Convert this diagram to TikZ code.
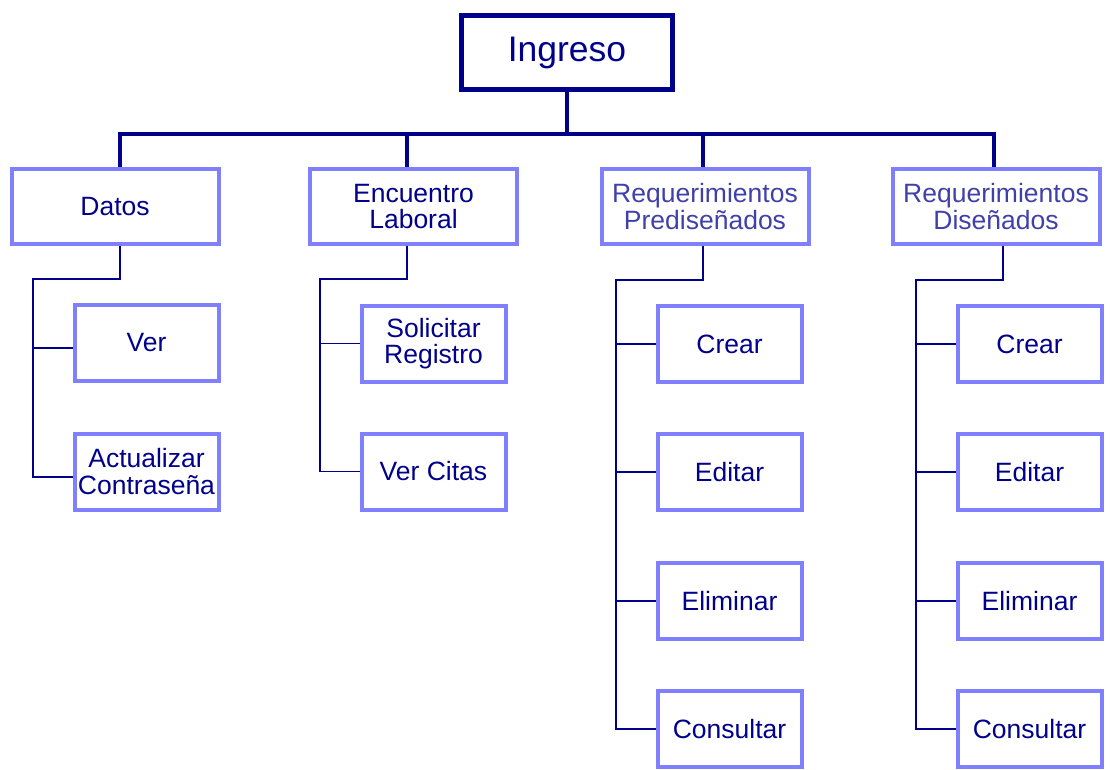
\documentclass[tikz,border=0pt]{standalone}
\usepackage{fontspec}
\setmainfont{Liberation Sans}
\definecolor{navy}{RGB}{0,0,139}
\definecolor{lb}{RGB}{128,128,255}
\definecolor{mb}{RGB}{64,64,170}
\begin{document}
\begin{tikzpicture}[x=1pt,y=-1pt,
 topbox/.style={draw=navy, line width=5pt, minimum width=211pt, minimum height=74pt, inner sep=0pt, text=navy, font=\fontsize{35.5}{40}\selectfont},
 box/.style={draw=lb, line width=4pt, inner sep=0pt, text=navy, font=\fontsize{26.5}{26.5}\selectfont, align=center},
 lvtwo/.style={box, minimum width=207pt, minimum height=75pt},
 lvthree/.style={box, minimum width=144pt, minimum height=76pt},
 lone/.style={draw=navy, line width=3.2pt},
 lthin/.style={draw=navy, line width=1.8pt}]
\useasboundingbox (0,0) rectangle (1114,769);

\node[topbox] (ing) at (567,52.5) {Ingreso};

\node[lvtwo] (datos) at (115,206.5) {Datos};
\node[lvtwo] (enc) at (413.5,206.5) {Encuentro\\Laboral};
\node[lvtwo, text=mb] (pred) at (705,206.5) {Requerimientos\\Prediseñados};
\node[lvtwo, text=mb] (dis) at (996,206.5) {Requerimientos\\Diseñados};

\coordinate (bus) at (567,134);
\draw[lone] (ing.south) -- (bus);
\draw[lone] (bus) -| ([xshift=5pt]datos.north);
\draw[lone] (bus) -| ([xshift=-6.5pt]enc.north);
\draw[lone] (bus) -| ([xshift=-2pt]pred.north);
\draw[lone] (bus) -| ([xshift=-2pt]dis.north);

% Datos children
\node[lvthree] (ver) at (146.5,343) {Ver};
\node[lvthree] (act) at (146.5,471.5) {Actualizar\\Contraseña};
\coordinate (dA) at (33,279);
\draw[lthin] ([xshift=5pt]datos.south) |- (dA) -- (33,477) -- ([yshift=-5.5pt]act.west);
\draw[lthin] (33,348) -- ([yshift=-5pt]ver.west);

% Encuentro children
\node[lvthree] (sol) at (433.5,343.5) {Solicitar\\Registro};
\node[lvthree] (citas) at (433.5,471.5) {Ver Citas};
\coordinate (eA) at (320,279);
\draw[lthin] ([xshift=-6.5pt]enc.south) |- (eA) -- (eA |- citas.west) -- (citas.west);
\draw[lthin] (eA |- sol.west) -- (sol.west);

% Prediseñados children
\node[lvthree] (pc) at (729.5,344) {Crear};
\node[lvthree] (pe) at (729.5,472) {Editar};
\node[lvthree] (pl) at (729.5,601) {Eliminar};
\node[lvthree] (pq) at (729.5,729) {Consultar};
\coordinate (pA) at (616,280);
\draw[lthin] ([xshift=-2pt]pred.south) |- (pA) -- (pA |- pq.west) -- (pq.west);
\draw[lthin] (pA |- pc.west) -- (pc.west);
\draw[lthin] (pA |- pe.west) -- (pe.west);
\draw[lthin] (pA |- pl.west) -- (pl.west);

% Diseñados children
\node[lvthree] (dc) at (1029.5,344) {Crear};
\node[lvthree] (de) at (1029.5,472) {Editar};
\node[lvthree] (dl) at (1029.5,601) {Eliminar};
\node[lvthree] (dq) at (1029.5,729) {Consultar};
\coordinate (qA) at (916,280);
\draw[lthin] ([xshift=7pt]dis.south) |- (qA) -- (qA |- dq.west) -- (dq.west);
\draw[lthin] (qA |- dc.west) -- (dc.west);
\draw[lthin] (qA |- de.west) -- (de.west);
\draw[lthin] (qA |- dl.west) -- (dl.west);
\end{tikzpicture}
\end{document}
